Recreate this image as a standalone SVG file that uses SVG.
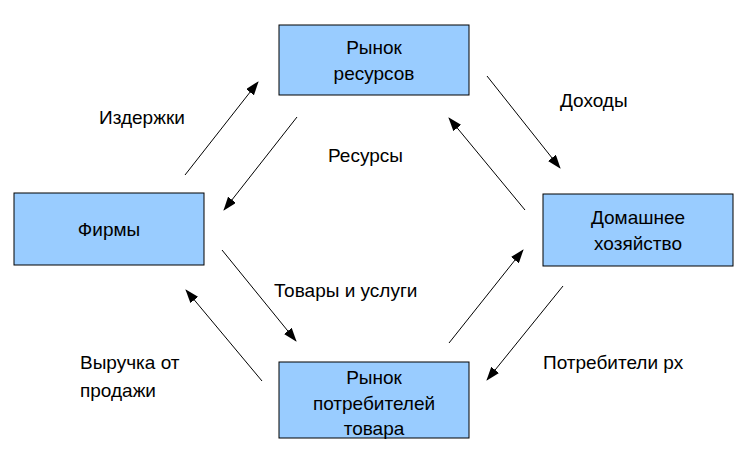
<svg xmlns="http://www.w3.org/2000/svg" width="748" height="465" viewBox="0 0 748 465">
<style>
.b{fill:#99ccff;stroke:#000;stroke-width:1}
text{font-family:"Liberation Sans",Arial,sans-serif;font-size:19px;fill:#000}
.c{text-anchor:middle}
.l{stroke:#000;stroke-width:1;fill:none;marker-end:url(#a)}
</style>
<defs><marker id="a" markerWidth="14" markerHeight="10" refX="13" refY="5" orient="auto" markerUnits="userSpaceOnUse"><path d="M0,0 L14,5 L0,10 Z" fill="#000"/></marker></defs>
<rect width="748" height="465" fill="#fff"/>
<g id="rynok-resursov"><rect class="b" x="279" y="25" width="190" height="70"/><text class="c" x="374" y="54">Рынок</text><text class="c" x="374" y="80">ресурсов</text></g>
<g id="firmy"><rect class="b" x="14" y="193" width="190" height="72"/><text class="c" x="109" y="236">Фирмы</text></g>
<g id="domashnee"><rect class="b" x="543" y="194" width="190" height="72"/><text class="c" x="638" y="224">Домашнее</text><text class="c" x="638" y="250">хозяйство</text></g>
<g id="rynok-tovara"><rect class="b" x="279" y="362" width="190" height="76"/><text class="c" x="374" y="384">Рынок</text><text class="c" x="374" y="410">потребителей</text><text class="c" x="374" y="435">товара</text></g>
<g id="connectors">
<line class="l" x1="185" y1="175" x2="258" y2="82"/>
<line class="l" x1="297" y1="117" x2="224" y2="210"/>
<line class="l" x1="487" y1="76" x2="560" y2="168"/>
<line class="l" x1="525" y1="210" x2="449" y2="118"/>
<line class="l" x1="222" y1="250" x2="296" y2="341"/>
<line class="l" x1="449" y1="343" x2="523" y2="250"/>
<line class="l" x1="563" y1="286" x2="487" y2="380"/>
<line class="l" x1="262" y1="381" x2="186" y2="290"/>
</g>
<g id="labels">
<text x="99" y="124">Издержки</text>
<text x="328" y="162">Ресурсы</text>
<text x="560" y="107">Доходы</text>
<text x="274" y="297">Товары и услуги</text>
<text x="80" y="369">Выручка от</text>
<text x="80" y="397">продажи</text>
<text x="543" y="369">Потребители рх</text>
</g>
</svg>
